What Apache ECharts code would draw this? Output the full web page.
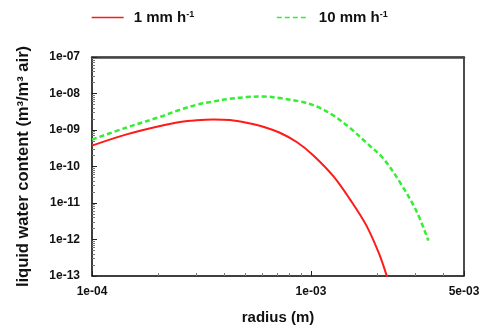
<!DOCTYPE html>
<html><head><meta charset="utf-8">
<script src="https://cdn.jsdelivr.net/npm/echarts@6/dist/echarts.min.js"></script>
<style>html,body{margin:0;padding:0;background:#fff}#c{width:490px;height:330px}</style>
</head><body><div id="c"></div>
<script>
// Data
const radiusRed = [1.000e-4,1.439e-4,2.047e-4,2.523e-4,3.006e-4,3.581e-4,4.266e-4,5.082e-4,6.053e-4,7.211e-4,8.610e-4,1.023e-3,1.265e-3,1.507e-3,1.795e-3,2.065e-3,2.218e-3,2.291e-3];
const lwc1mm    = [3.74e-10,7.59e-10,1.288e-9,1.66e-9,1.862e-9,1.950e-9,1.879e-9,1.585e-9,1.233e-9,8.41e-10,4.68e-10,2.04e-10,5.43e-11,1.259e-11,2.36e-12,3.58e-13,1.02e-13,5.75e-14];
const radiusGreen = [1.000e-4,1.439e-4,2.047e-4,2.523e-4,3.006e-4,3.581e-4,4.266e-4,5.082e-4,6.053e-4,7.211e-4,8.913e-4,1.062e-3,1.265e-3,1.507e-3,1.795e-3,2.138e-3,2.547e-3,3.041e-3,3.436e-3];
const lwc10mm     = [5.46e-10,1.175e-9,2.291e-9,3.589e-9,4.909e-9,6.039e-9,7.161e-9,7.962e-9,8.260e-9,7.482e-9,6.039e-9,4.416e-9,2.512e-9,1.138e-9,4.436e-10,1.66e-10,3.715e-11,5.754e-12,9.33e-13];
const seriesNames = ['1 mm h', '10 mm h'];
const seriesColors = ['#ff1a1a', '#33ee33'];
const xMinorTicks = [2e-4,3e-4,4e-4,5e-4,6e-4,7e-4,8e-4,9e-4,2e-3,3e-3,4e-3];
const yMinorTicks = [];
for (let e = -13; e < -7; e++) for (let m = 2; m <= 9; m++) yMinorTicks.push(m * Math.pow(10, e));

const FONT = "'Liberation Sans', Arial, sans-serif";
function fmtExp(v) {
  const e = Math.floor(Math.log10(v) + 1e-9);
  const m = Math.round(v / Math.pow(10, e));
  const ae = Math.abs(e);
  return m + 'e' + (e < 0 ? '-' : '+') + (ae < 10 ? '0' + ae : ae);
}
const xs = radiusRed.map((r, i) => [r, lwc1mm[i]]);
const gs = radiusGreen.map((r, i) => [r, lwc10mm[i]]);

const chart = echarts.init(document.getElementById('c'), null, {renderer: 'canvas'});
const GRID = {left: 92, right: 26, top: 57, bottom: 53};
const baseX = {type: 'log', min: 1e-4, max: 5e-3, splitNumber: 2, splitLine: {show: false}};
const baseY = {type: 'log', min: 1e-13, max: 1e-7, splitNumber: 6, splitLine: {show: false}};
chart.setOption({
  animation: false,
  backgroundColor: '#fff',
  grid: Object.assign({show: true, borderColor: '#333', borderWidth: 1}, GRID),
  legend: {
    left: 86, top: 5, itemWidth: 32, itemHeight: 14, itemGap: 82,
    data: seriesNames,
    itemStyle: {opacity: 0},
    lineStyle: {color: 'inherit', width: 1.3, type: 'inherit'},
    formatter: n => '{a|' + n + '}{s|-1}',
    textStyle: {
      rich: {
        a: {fontFamily: FONT, fontWeight: 'bold', fontSize: 15, color: '#111', padding: [0, 0, 0, 5]},
        s: {fontFamily: FONT, fontWeight: 'bold', fontSize: 9, color: '#111', verticalAlign: 'top', padding: [0, 0, 6, 0]}
      }
    }
  },
  xAxis: [
    Object.assign({}, baseX, {
      name: 'radius (m)', nameLocation: 'middle', nameGap: 34,
      nameTextStyle: {fontFamily: FONT, fontWeight: 'bold', fontSize: 15, color: '#111'},
      axisLine: {lineStyle: {color: '#222', width: 1.5}},
      axisTick: {inside: true, length: 5, lineStyle: {color: '#222'}},
      axisLabel: {formatter: fmtExp, margin: 10, fontFamily: FONT, fontWeight: 'bold', fontSize: 12, color: '#111', showMaxLabel: true, showMinLabel: true}
    }),
    Object.assign({}, baseX, {
      position: 'bottom', gridIndex: 0,
      axisLine: {show: false},
      axisTick: {inside: true, length: 3, customValues: xMinorTicks, lineStyle: {color: '#777'}},
      axisLabel: {show: false}
    }),
    Object.assign({}, baseX, {
      position: 'top',
      axisLine: {lineStyle: {color: '#444', width: 2.5}},
      axisTick: {show: false}, axisLabel: {show: false}
    })
  ],
  yAxis: [
    Object.assign({}, baseY, {
      name: 'liquid water content (m³/m³ air)', nameLocation: 'middle', nameGap: 60,
      nameTextStyle: {fontFamily: FONT, fontWeight: 'bold', fontSize: 16.5, color: '#111'},
      axisLine: {lineStyle: {color: '#222', width: 1.5}},
      axisTick: {inside: true, length: 5, lineStyle: {color: '#222'}},
      axisLabel: {formatter: fmtExp, margin: 12, fontFamily: FONT, fontWeight: 'bold', fontSize: 12, color: '#111', showMaxLabel: true, showMinLabel: true}
    }),
    Object.assign({}, baseY, {
      position: 'left',
      axisLine: {show: false},
      axisTick: {inside: true, length: 3, customValues: yMinorTicks, lineStyle: {color: '#777'}},
      axisLabel: {show: false}
    }),
    Object.assign({}, baseY, {
      position: 'right',
      axisLine: {lineStyle: {color: '#333', width: 1.5}},
      axisTick: {show: false}, axisLabel: {show: false}
    })
  ],
  series: [
    {name: seriesNames[0], type: 'line', data: xs, smooth: 0.35, symbol: 'none', clip: true,
     lineStyle: {color: seriesColors[0], width: 2}, itemStyle: {color: seriesColors[0]}},
    {name: seriesNames[1], type: 'line', data: gs, smooth: 0.35, symbol: 'none', clip: true,
     lineStyle: {color: seriesColors[1], width: 2.5, type: [5, 3]}, itemStyle: {color: seriesColors[1]}}
  ]
});
</script></body></html>
